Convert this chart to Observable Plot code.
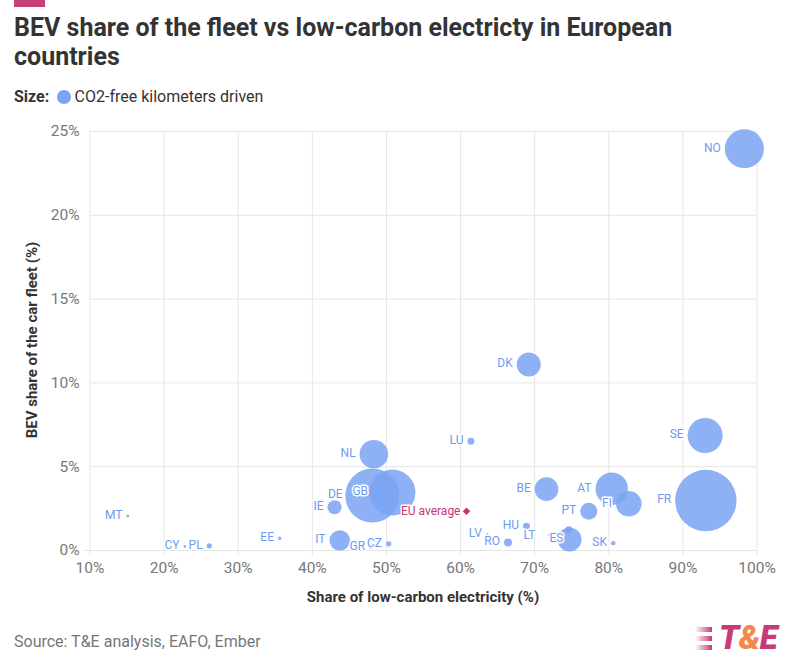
<!DOCTYPE html>
<html>
<head>
<meta charset="utf-8">
<script src="https://cdn.jsdelivr.net/npm/d3@7"></script>
<script src="https://cdn.jsdelivr.net/npm/@observablehq/plot@0.6"></script>
<style>
  html, body { margin: 0; padding: 0; background: #fff; }
  #wrap { position: relative; width: 794px; height: 669px; overflow: hidden; font-family: Roboto, "Noto Sans", sans-serif; color: #333; }
  .bar { position: absolute; left: 14px; top: 0; width: 31px; height: 6.5px; background: #c8407a; }
  .title { position: absolute; left: 14px; top: 13px; font-size: 25px; line-height: 29px; font-weight: 700; color: #333; white-space: nowrap; }
  .legend { position: absolute; left: 14px; top: 87.2px; font-size: 16px; line-height: 20px; color: #333; white-space: nowrap; }
  .legend b { font-weight: 700; }
  .legend .dot { display: inline-block; width: 13.3px; height: 13.3px; border-radius: 50%; background: #7ba4f4; vertical-align: -1.5px; margin: 0 4px 0 8px; }
  #chart { position: absolute; left: 0; top: 112px; }
  .ylab { position: absolute; left: 32px; top: 340px; transform: translate(-50%, -50%) rotate(-90deg); font-size: 15px; line-height: 18px; font-weight: 700; color: #333; white-space: nowrap; }
  .xlab { position: absolute; left: 423px; top: 588px; transform: translateX(-50%); font-size: 15px; line-height: 18px; font-weight: 700; color: #333; white-space: nowrap; }
  .source { position: absolute; left: 14px; top: 631.7px; font-size: 16px; line-height: 19px; color: #777; white-space: nowrap; }
  .logo { position: absolute; left: 719px; top: 621.2px; font-size: 33px; line-height: 33px; font-weight: 900; font-style: italic; color: #c63b77; white-space: nowrap; letter-spacing: -0.5px; }
  .logo .amp { color: #f5874a; }
  .stripe { position: absolute; left: 695px; width: 17px; height: 4.5px; background: linear-gradient(to right, rgba(198,59,119,0), #c63b77); }
</style>
</head>
<body>
<div id="wrap">
  <div class="bar"></div>
  <div class="title">BEV share of the fleet vs low-carbon electricty in European<br>countries</div>
  <div class="legend"><b>Size:</b><span class="dot"></span>CO2-free kilometers driven</div>
  <div id="chart"></div>
  <div class="ylab">BEV share of the car fleet (%)</div>
  <div class="xlab">Share of low-carbon electricity (%)</div>
  <div class="source">Source: T&amp;E analysis, EAFO, Ember</div>
  <div class="stripe" style="top:627px"></div>
  <div class="stripe" style="top:636px"></div>
  <div class="stripe" style="top:645px"></div>
  <div class="logo">T<span class="amp">&amp;</span>E</div>
</div>
<script>
// ---- data ----
const countries = ["NO","SE","FR","DK","LU","NL","GB","DE","IE","IT","GR","CZ","LV","RO","HU","LT","ES","BE","PT","AT","FI","SK","MT","CY","PL","EE","SI"];
// Share of low-carbon electricity (%)
const lowCarbonShare = [98.3, 93.0, 93.1, 69.2, 61.4, 48.3, 48.1, 50.8, 43.0, 43.7, 47.9, 50.3, 63.6, 66.4, 68.9, 72.0, 74.7, 71.6, 77.3, 80.4, 82.7, 80.6, 15.1, 22.8, 26.1, 35.6, 74.6];
// BEV share of the car fleet (%)
const bevShare = [23.97, 6.86, 2.98, 11.1, 6.52, 5.75, 3.28, 3.46, 2.58, 0.6, 0.18, 0.4, 0.95, 0.48, 1.45, 0.92, 0.66, 3.66, 2.34, 3.68, 2.79, 0.44, 2.05, 0.24, 0.28, 0.73, 1.24];
// CO2-free kilometers driven (bubble size, estimated)
const co2FreeKm = [3.8, 3.06, 9.4, 1.44, 0.12, 2.02, 7.3, 5.3, 0.49, 1.06, 0.03, 0.07, 0.02, 0.16, 0.12, 0.02, 1.44, 1.39, 0.72, 2.62, 1.64, 0.05, 0.02, 0.02, 0.07, 0.03, 0.12];
// countries drawn without a label
const unlabeled = ["SI"];
// EU average
const euAverageLabel = "EU average";
const euAverageLowCarbon = 60.8;
const euAverageBev = 2.34;
// ticks
const xTicks = [10, 20, 30, 40, 50, 60, 70, 80, 90, 100];
const yTicks = [0, 5, 10, 15, 20, 25];

// ---- build table ----
const data = countries.map((c, i) => ({c, x: lowCarbonShare[i], y: bevShare[i], s: co2FreeKm[i]}));
const sizeMax = d3.max(co2FreeKm);
const rMax = 30.7;
const rad = d3.scaleSqrt().domain([0, sizeMax]).range([0, rMax]);

// label placement tweaks (pixels) where the reference moves a label
const labelTweak = {
  GB: d => ({dx: -4.3, dy: -4}),
  DE: d => ({dx: -49.7, dy: 2}),
  LT: d => ({dx: -14, dy: 0.5}),
  ES: d => ({dx: -6, dy: -1})
};

const bubbleFill = "#79a3f2";
const labelFill = "#6f9af0";
const euColor = "#c9366f";

const sorted = data.slice().sort((a, b) => b.s - a.s);

const labelMarks = data.filter(d => !unlabeled.includes(d.c)).map(d => {
  const t = labelTweak[d.c] ? labelTweak[d.c](d) : {dx: -(rad(d.s) + 4), dy: -1};
  return Plot.text([d], {
    x: "x", y: "y", text: "c", dx: t.dx, dy: t.dy,
    textAnchor: "end", fill: labelFill, stroke: "white", strokeWidth: 3,
    paintOrder: "stroke", fontSize: 12, fontFamily: "Roboto"
  });
});

const chart = Plot.plot({
  width: 794,
  height: 500,
  marginTop: 19,
  marginBottom: 62,
  marginLeft: 89.5,
  marginRight: 37.5,
  style: {fontFamily: "Roboto", fontSize: "15.5px", color: "#777", background: "transparent", overflow: "visible"},
  x: {domain: [10, 100], ticks: xTicks, tickFormat: d => d + "%", tickSize: 0, tickPadding: 11.5, label: null},
  y: {domain: [0, 25], ticks: yTicks, tickFormat: d => d + "%", tickSize: 0, tickPadding: 10.5, label: null},
  r: {domain: [0, sizeMax], range: [0, rMax]},
  marks: [
    Plot.ruleX(xTicks, {stroke: "#e6e6e6", strokeWidth: 1, insetBottom: -5}),
    Plot.ruleY(yTicks.filter(v => v !== 0), {stroke: "#e6e6e6", strokeWidth: 1}),
    Plot.ruleY([0], {stroke: "#e3e3e3", strokeWidth: 1.2, insetLeft: -6}),
    Plot.dot(sorted, {x: "x", y: "y", r: "s", fill: bubbleFill, fillOpacity: 0.85, stroke: "none"}),
    Plot.dot([{x: euAverageLowCarbon, y: euAverageBev}], {x: "x", y: "y", symbol: "square", rotate: 45, r: 3, fill: euColor, stroke: "none"}),
    ...labelMarks,
    Plot.text([{x: euAverageLowCarbon, y: euAverageBev, t: euAverageLabel}], {
      x: "x", y: "y", text: "t", dx: -6, dy: -0.5, textAnchor: "end",
      fill: euColor, stroke: "white", strokeWidth: 3, paintOrder: "stroke", fontSize: 12, fontFamily: "Roboto"
    })
  ]
});
document.getElementById("chart").appendChild(chart);
</script>
</body>
</html>
